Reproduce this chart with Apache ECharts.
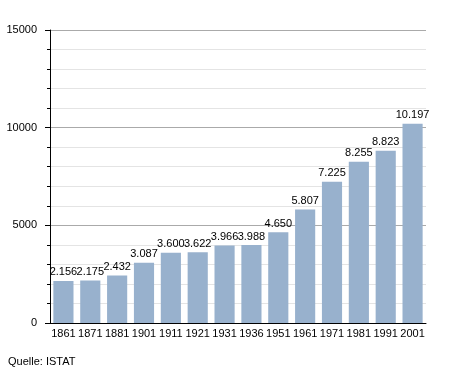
<!DOCTYPE html>
<html><head><meta charset="utf-8">
<script src="https://cdn.jsdelivr.net/npm/echarts@6/dist/echarts.min.js"></script>
<style>html,body{margin:0;padding:0;background:#fff}#c{width:455px;height:373px}</style>
</head><body><div id="c"></div>
<script>
const years = ['1861','1871','1881','1901','1911','1921','1931','1936','1951','1961','1971','1981','1991','2001'];
const population = [2156,2175,2432,3087,3600,3622,3966,3988,4650,5807,7225,8255,8823,10197];
const yTicks = [0,5000,10000,15000];
const sourceText = 'Quelle: ISTAT';

function de(v){return String(v).replace(/\B(?=(\d{3})+(?!\d))/g,'.');}
const chart = echarts.init(document.getElementById('c'));
chart.setOption({
  animation:false,
  textStyle:{fontFamily:'Liberation Sans, Arial, sans-serif'},
  grid:{left:50,right:29,top:30,bottom:50},
  graphic:[{type:'text',left:8,top:356,style:{text:sourceText,fontSize:11,fill:'#000',fontFamily:'Liberation Sans, Arial, sans-serif'}}],
  xAxis:{type:'category',data:years,
    axisLine:{lineStyle:{color:'#000',width:1}},
    axisTick:{show:false},
    axisLabel:{color:'#000',fontSize:11,margin:5,interval:0}},
  yAxis:{type:'value',min:yTicks[0],max:yTicks[yTicks.length-1],interval:5000,
    axisLine:{show:true,lineStyle:{color:'#000'}},
    axisTick:{show:true,length:5,lineStyle:{color:'#000'}},
    minorTick:{show:true,splitNumber:5,length:3,lineStyle:{color:'#000'}},
    splitLine:{lineStyle:{color:'#aaaaaa'}},
    minorSplitLine:{show:true,lineStyle:{color:'#e4e4e4'}},
    axisLabel:{color:'#000',fontSize:11,margin:13,formatter:v=>String(v)}},
  series:[{type:'bar',data:population,barCategoryGap:'25%',
    itemStyle:{color:'#98b1cd'},
    label:{show:true,position:'top',distance:3,color:'#000',fontSize:11,formatter:p=>de(p.value)}}]
});
</script></body></html>
